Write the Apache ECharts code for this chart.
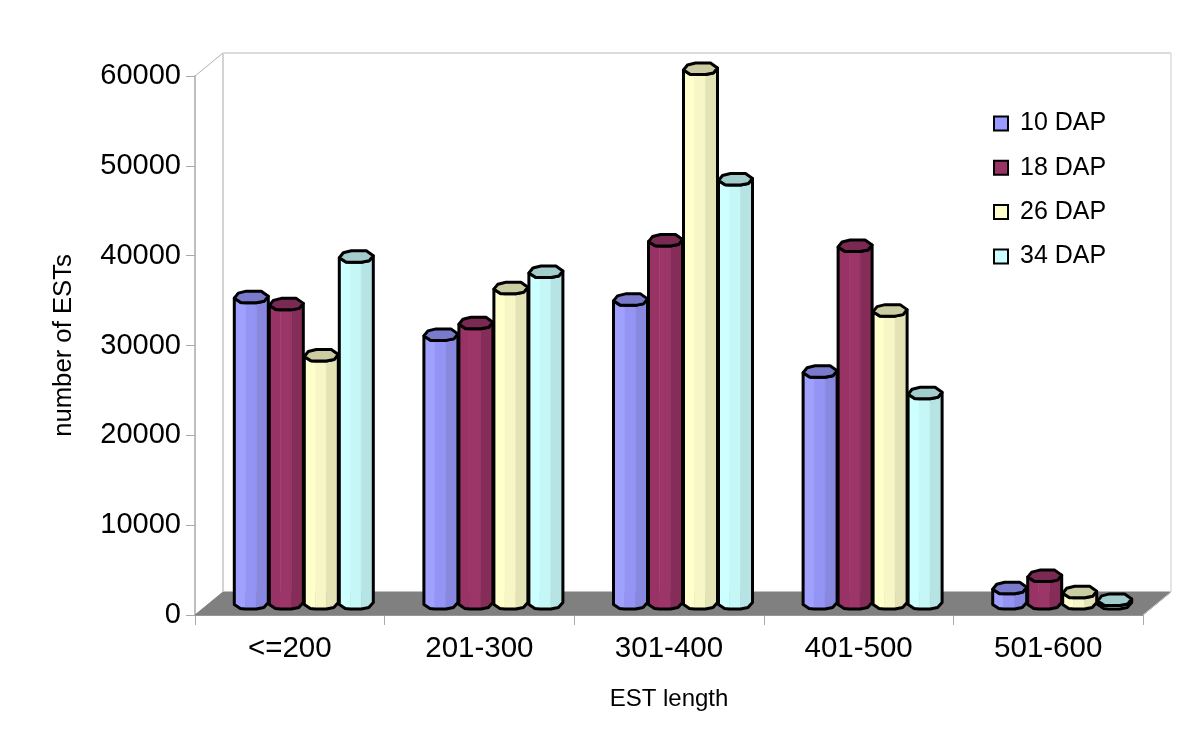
<!DOCTYPE html>
<html>
<head>
<meta charset="utf-8">
<style>html,body{margin:0;padding:0;background:#fff}#c{width:1200px;height:738px}</style>
<script src="https://cdn.jsdelivr.net/npm/echarts@6/dist/echarts.min.js"></script>
</head>
<body>
<div id="c"></div>
<script>
var categories = ['<=200', '201-300', '301-400', '401-500', '501-600'];
var dap10 = [34100, 29900, 33800, 25800, 1700];
var dap18 = [33300, 31200, 40400, 39800, 3050];
var dap26 = [27600, 35100, 59500, 32600, 1250];
var dap34 = [38600, 36900, 47200, 23400, 400];
var seriesNames = ['10 DAP', '18 DAP', '26 DAP', '34 DAP'];

var palettes = [
  { base: '#9999FF', bands: ['#A0A0FF', '#9494F5', '#8888E0'], top: '#7A7ACC' },
  { base: '#993366', bands: ['#993366', '#9C3568', '#852C59'], top: '#7A2952' },
  { base: '#FFFFCC', bands: ['#FFFFCC', '#F6F6C6', '#E3E3B6'], top: '#CCCCA3' },
  { base: '#CCFFFF', bands: ['#CCFFFF', '#C6F7F7', '#B6E3E3'], top: '#A3CCCC' }
];
var allValues = [dap10, dap18, dap26, dap34];

var DEPTH_X = 28, DEPTH_Y = 23, BAR = 35;
var rim = [[-17, 1], [-13, -4], [-5, -6], [10, -6], [17, -1], [13, 4], [5, 5.5], [-10, 5.5]];
var front = [[-17, 1], [-11, 5], [-6, 5.5], [5, 5.5], [12.5, 4], [17, -1]];

function renderCylinder(i) {
  return function (params, api) {
    var cat = api.value(0), val = api.value(1);
    var base = api.coord([cat, 0]), tip = api.coord([cat, val]);
    var cx = base[0] + DEPTH_X / 2 + (i - 1.5) * BAR;
    var by = base[1] - DEPTH_Y / 2, ty = tip[1] - DEPTH_Y / 2;
    var p = palettes[i];
    function side(from, to) {
      var pts = [];
      for (var k = from; k <= to; k++) pts.push([cx + front[k][0], by + front[k][1]]);
      for (var m = to; m >= from; m--) pts.push([cx + front[m][0], ty + front[m][1]]);
      return pts;
    }
    var outline = [];
    front.forEach(function (f) { outline.push([cx + f[0], by + f[1]]); });
    for (var n = front.length - 1; n >= 0; n--) outline.push([cx + front[n][0], ty + front[n][1]]);
    var cap = rim.map(function (r) { return [cx + r[0], ty + r[1]]; });
    var bands = [side(0, 2), side(2, 3), side(3, 5)];
    var children = bands.map(function (pts, b) {
      return { type: 'polygon', shape: { points: pts }, style: { fill: p.bands[b], stroke: p.bands[b], lineWidth: 0.5 } };
    });
    children.push({ type: 'polygon', shape: { points: outline }, style: { fill: 'none', stroke: '#000', lineWidth: 3, lineJoin: 'round' } });
    children.push({ type: 'polygon', shape: { points: cap }, style: { fill: p.top, stroke: '#000', lineWidth: 3, lineJoin: 'round' } });
    return { type: 'group', children: children };
  };
}

function renderFrame(params, api) {
  var o = api.coord([0, 0]), t = api.coord([0, 60000]);
  var band = api.size([1, 0])[0];
  var x0 = o[0] - band / 2, x1 = x0 + band * categories.length;
  var y0 = o[1], y1 = t[1];
  return {
    type: 'group',
    children: [
      { type: 'polygon', shape: { points: [[x0, y0], [x0 + DEPTH_X, y0 - DEPTH_Y], [x1 + DEPTH_X, y0 - DEPTH_Y], [x1, y0]] }, style: { fill: '#808080', stroke: '#808080', lineWidth: 1 } },
      { type: 'line', shape: { x1: x0 + DEPTH_X, y1: y0 - DEPTH_Y, x2: x0 + DEPTH_X, y2: y1 - DEPTH_Y }, style: { stroke: '#c4c4c4', lineWidth: 1.5 } },
      { type: 'line', shape: { x1: x0 + DEPTH_X, y1: y1 - DEPTH_Y, x2: x1 + DEPTH_X, y2: y1 - DEPTH_Y }, style: { stroke: '#dcdcdc', lineWidth: 2 } },
      { type: 'line', shape: { x1: x1 + DEPTH_X, y1: y1 - DEPTH_Y, x2: x1 + DEPTH_X, y2: y0 - DEPTH_Y }, style: { stroke: '#dcdcdc', lineWidth: 1.5 } },
      { type: 'line', shape: { x1: x0, y1: y1, x2: x0 + DEPTH_X, y2: y1 - DEPTH_Y }, style: { stroke: '#b0b0b0', lineWidth: 1 } },
      { type: 'line', shape: { x1: x1, y1: y0, x2: x1 + DEPTH_X, y2: y0 - DEPTH_Y }, style: { stroke: '#c8c8c8', lineWidth: 1 } }
    ]
  };
}

var FONT = '"Liberation Sans", Arial, sans-serif';
var series = [{
  type: 'custom', name: 'frame', silent: true, z: 1, renderItem: renderFrame,
  data: [[0, 0]], encode: { x: 0, y: 1 }
}];
seriesNames.forEach(function (name, i) {
  series.push({
    type: 'custom', name: name, z: 2 + i, renderItem: renderCylinder(i),
    itemStyle: { color: palettes[i].base },
    encode: { x: 0, y: 1 },
    data: allValues[i].map(function (v, c) { return [c, v]; })
  });
});

var chart = echarts.init(document.getElementById('c'), null, { renderer: 'canvas' });
chart.setOption({
  animation: false,
  backgroundColor: '#fff',
  grid: { left: 195, right: 57, top: 76, bottom: 123 },
  legend: {
    data: seriesNames, orient: 'vertical', left: 988, top: 106,
    itemWidth: 14, itemHeight: 14, itemGap: 19.3, icon: 'rect',
    itemStyle: { borderColor: '#000', borderWidth: 2 },
    textStyle: { fontFamily: FONT, fontSize: 25, color: '#000', padding: [0, 0, 0, 7] },
    selectedMode: false
  },
  xAxis: {
    type: 'category', data: categories,
    name: 'EST length', nameLocation: 'middle', nameGap: 72,
    nameTextStyle: { fontFamily: FONT, fontSize: 24, color: '#000' },
    axisLine: { lineStyle: { color: '#aaa', width: 1 } },
    axisTick: { show: true, length: 10, lineStyle: { color: '#aaa' } },
    axisLabel: { fontFamily: FONT, fontSize: 29.5, color: '#000', margin: 19, interval: 0 }
  },
  yAxis: {
    type: 'value', min: 0, max: 60000, interval: 10000,
    name: 'number of ESTs', nameLocation: 'middle', nameGap: 118, nameRotate: 90,
    nameTextStyle: { fontFamily: FONT, fontSize: 25.7, color: '#000' },
    axisLine: { show: true, lineStyle: { color: '#aaa', width: 1.5 } },
    axisTick: { show: true, length: 9, lineStyle: { color: '#aaa' } },
    splitLine: { show: false },
    axisLabel: { fontFamily: FONT, fontSize: 29, color: '#000', margin: 14, formatter: function (v) { return String(v); } }
  },
  series: series
});
</script>
</body>
</html>
